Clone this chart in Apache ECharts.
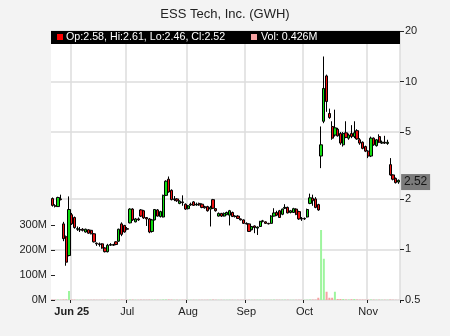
<!DOCTYPE html>
<html><head><meta charset="utf-8">
<script src="https://cdn.jsdelivr.net/npm/echarts@6/dist/echarts.min.js"></script>
<style>html,body{margin:0;padding:0;background:#f3f3f3}#c{width:450px;height:336px}</style>
</head><body><div id="c"></div>
<script>
// trading days (2025)
const mayDays=[21,22,23,27,28,29,30];
const junDays=[2,3,4,5,6,9,10,11,12,13,16,17,18,20,23,24,25,26,27,30];
const julDays=[1,2,3,7,8,9,10,11,14,15,16,17,18,21,22,23,24,25,28,29,30,31];
const augDays=[1,4,5,6,7,8,11,12,13,14,15,18,19,20,21,22,25,26,27,28,29];
const sepDays=[2,3,4,5,8,9,10,11,12,15,16,17,18,19,22,23,24,25,26,29,30];
const octDays=[1,2,3,6,7,8,9,10,13,14,15,16,17,20,21,22,23,24,27,28,29,30,31];
const novDays=[3,4,5,6,7,10,11,12,13,14,17,18];

const tickMonths=['06','07','08','09','10','11'];
const tickLabels=['Jun 25','Jul','Aug','Sep','Oct','Nov'];
const priceTicks=[0.5,1,2,5,10,20];
const volTicks=[0,100,200,300];

const openP=[2.01,1.82,1.80,2.00,1.42,1.19,0.92,1.61,1.55,1.32,1.31,1.32,1.27,1.31,1.30,1.24,1.09,1.08,1.08,1.02,
0.97,1.06,1.07,1.11,1.12,1.42,1.39,1.33,1.44,1.74,1.46,1.52,1.72,1.70,1.55,1.52,1.28,1.50,1.72,1.57,
1.56,2.10,2.62,2.25,1.98,2.00,1.88,1.92,1.86,1.75,1.84,1.92,1.84,1.88,1.86,1.80,1.80,1.74,1.98,1.75,
1.58,1.64,1.58,1.61,1.60,1.66,1.57,1.58,1.52,1.50,1.43,1.42,1.31,1.38,1.34,1.37,1.47,1.46,1.43,1.43,
1.58,1.66,1.70,1.62,1.76,1.78,1.66,1.66,1.74,1.68,1.53,1.52,1.56,1.88,2.02,2.00,1.85,3.60,5.80,10.80,
6.45,5.40,4.80,5.20,4.90,4.20,4.95,4.60,4.90,4.70,5.10,4.50,4.35,4.10,3.85,3.60,4.60,4.15,4.70,4.30,
4.35,4.28,3.20,2.78,2.65,2.58];
const highP=[2.04,1.86,2.06,2.12,1.46,1.21,2.07,1.65,1.57,1.37,1.36,1.34,1.33,1.32,1.31,1.25,1.10,1.10,1.09,1.03,
1.08,1.09,1.08,1.12,1.33,1.45,1.40,1.36,1.76,1.76,1.54,1.55,1.74,1.72,1.56,1.54,1.52,1.74,1.74,1.70,
2.12,2.58,2.72,2.28,2.08,2.02,1.96,2.10,1.88,1.84,1.90,1.94,1.90,1.90,1.88,1.82,1.82,1.82,2.00,1.76,
1.66,1.65,1.66,1.68,1.72,1.68,1.60,1.60,1.53,1.51,1.45,1.43,1.38,1.39,1.37,1.48,1.50,1.47,1.44,1.60,
1.76,1.70,1.72,1.75,1.86,1.80,1.72,1.77,1.76,1.70,1.56,1.55,1.75,2.15,2.12,2.05,1.87,5.40,14.10,11.00,
6.90,5.80,6.80,5.30,5.00,5.00,5.80,4.90,5.50,5.80,5.20,4.60,4.40,4.15,3.90,4.70,4.65,4.55,4.85,4.45,
4.75,4.50,3.50,2.80,2.68,2.61];
const lowP=[1.80,1.78,1.79,1.96,1.12,0.80,0.91,1.40,1.33,1.29,1.27,1.28,1.26,1.24,1.23,1.10,1.05,1.04,1.01,0.96,
0.96,1.05,1.05,1.06,1.11,1.20,1.26,1.30,1.43,1.48,1.45,1.48,1.56,1.52,1.38,1.25,1.26,1.49,1.57,1.55,
1.55,2.08,2.18,1.96,1.94,1.92,1.86,1.82,1.72,1.73,1.82,1.82,1.82,1.82,1.76,1.75,1.68,1.37,1.74,1.68,
1.57,1.56,1.57,1.60,1.39,1.56,1.55,1.52,1.49,1.42,1.41,1.27,1.30,1.25,1.22,1.36,1.45,1.42,1.41,1.42,
1.57,1.58,1.54,1.60,1.74,1.64,1.64,1.65,1.60,1.50,1.48,1.50,1.55,1.86,1.82,1.76,1.70,3.05,5.65,6.60,
6.00,4.50,4.70,4.70,4.20,4.10,4.60,4.50,4.60,4.60,4.50,4.20,3.95,3.80,3.50,3.55,4.15,4.10,4.30,4.25,
4.25,4.20,2.75,2.58,2.47,2.46];
const closeP=[1.83,1.81,2.04,1.98,1.16,0.84,1.73,1.42,1.35,1.33,1.31,1.30,1.32,1.25,1.24,1.11,1.08,1.07,1.02,0.97,
1.06,1.07,1.06,1.07,1.32,1.23,1.27,1.32,1.74,1.50,1.52,1.50,1.58,1.54,1.52,1.27,1.50,1.73,1.58,1.68,
2.10,2.55,2.20,1.98,2.00,1.95,1.94,1.90,1.74,1.82,1.86,1.83,1.86,1.84,1.78,1.77,1.70,1.78,1.76,1.70,
1.64,1.58,1.64,1.66,1.70,1.57,1.58,1.53,1.50,1.43,1.42,1.28,1.37,1.35,1.36,1.47,1.48,1.43,1.42,1.58,
1.65,1.60,1.55,1.74,1.78,1.65,1.70,1.75,1.62,1.52,1.52,1.53,1.73,2.03,1.95,1.78,1.72,4.20,9.10,7.60,
6.10,4.60,5.30,4.75,4.30,4.90,4.65,4.80,4.70,4.95,4.55,4.30,4.00,3.85,3.60,4.60,4.20,4.50,4.35,4.35,
4.30,4.35,2.78,2.62,2.50,2.52];
const volumeM=[1.6,1.2,1.4,1.1,2.0,2.2,36,1.8,1.4,1.0,0.9,0.8,0.9,0.8,0.9,1.1,0.9,0.8,1.0,1.1,
1.2,0.8,0.7,0.8,1.4,1.6,1.1,0.9,1.8,1.5,1.0,0.9,1.2,1.1,1.0,1.3,1.2,1.4,1.1,1.0,
1.9,2.0,2.0,1.5,1.0,0.9,0.8,0.9,1.0,0.8,0.7,0.8,0.7,0.7,0.8,0.7,0.9,1.2,1.6,0.9,
0.8,0.7,0.7,0.7,1.0,0.8,0.6,0.7,0.6,0.7,0.6,0.9,0.8,0.8,0.9,0.9,0.7,0.6,0.6,1.0,
1.5,1.0,1.0,1.1,1.2,1.0,0.8,0.9,0.9,1.0,0.8,0.7,1.2,1.8,1.6,1.4,9,280,165,33,
9,9,33,4,4,4,2,2,3,4,2,1.5,1.6,1.4,1.5,2,1.4,1.2,1.3,1.0,
1.0,0.9,1.8,1.2,0.8,0.426];

// build categories
const months=[['05',mayDays],['06',junDays],['07',julDays],['08',augDays],['09',sepDays],['10',octDays],['11',novDays]];
const dates=[];
months.forEach(([m,ds])=>ds.forEach(d=>dates.push('2025-'+m+'-'+String(d).padStart(2,'0'))));
const firstIdx={};
dates.forEach((d,i)=>{const m=d.slice(5,7); if(!(m in firstIdx)) firstIdx[m]=i;});
const tickMap=new Map(tickMonths.map((m,k)=>[firstIdx[m],tickLabels[k]]));
const isTick=(i)=>tickMap.has(i);

const UP='#11dd11', DOWN='#ee1111', VUP='#9ef59e', VDOWN='#f5a3a3';
const n=dates.length;
const candleData=dates.map((d,i)=>{
  const v=[openP[i],closeP[i],lowP[i],highP[i]];
  if(i===n-1) return {value:v,itemStyle:{color0:UP}};
  return v;
});
const volData=volumeM.map((v,i)=>({value:v,itemStyle:{color:closeP[i]>=openP[i]?VUP:VDOWN}}));
const last=n-1;
const legendText='Op:'+openP[last].toFixed(2)+', Hi:'+highP[last].toFixed(2)+', Lo:'+lowP[last].toFixed(2)+', Cl:'+closeP[last].toFixed(2);
const volText='Vol: '+volumeM[last].toFixed(3)+'M';

const FONT='"Liberation Sans", Arial, sans-serif';
const chart=echarts.init(document.getElementById('c'));
chart.setOption({
  animation:false,
  backgroundColor:'#f3f3f3',
  textStyle:{fontFamily:FONT},
  title:{text:'ESS Tech, Inc. (GWH)',left:'center',top:3,textStyle:{fontSize:13,fontWeight:'normal',color:'#222',fontFamily:FONT}},
  grid:{left:51,right:50,top:31,bottom:36,show:true,backgroundColor:'#ffffff',borderWidth:0},
  xAxis:{type:'category',data:dates,boundaryGap:true,
    axisLine:{show:false},
    axisTick:{show:true,interval:isTick,length:3,lineStyle:{color:'#222'}},
    axisLabel:{interval:isTick,margin:6,fontSize:11,color:'#222',
      formatter:(v,i)=>{const t=tickMap.get(i)||''; return i===firstIdx['06']?'{b|'+t+'}':t;},
      rich:{b:{fontWeight:'bold',fontSize:11,color:'#222'}}},
    splitLine:{show:true,interval:isTick,lineStyle:{color:'#dcdcdc',width:1.5}}
  },
  yAxis:[
    {type:'value',position:'left',min:0,max:1076,
      axisLine:{show:false},
      axisTick:{show:true,inside:true,length:4,customValues:volTicks,lineStyle:{color:'#222'}},
      axisLabel:{customValues:volTicks,formatter:v=>v+'M',margin:4,fontSize:11,color:'#222'},
      splitLine:{show:false}},
    {type:'log',logBase:10,position:'right',min:0.5,max:20,
      axisLine:{show:false},
      axisTick:{show:true,length:4,customValues:priceTicks,lineStyle:{color:'#222'}},
      axisLabel:{customValues:priceTicks,formatter:v=>String(v),margin:5,fontSize:11,color:'#222'},
      splitLine:{show:true,lineStyle:{color:'#dcdcdc',width:1.5}}}
  ],
  series:[
    {type:'bar',name:'Volume',xAxisIndex:0,yAxisIndex:0,data:volData,barWidth:2,z:1},
    {type:'candlestick',name:'Price',xAxisIndex:0,yAxisIndex:1,data:candleData,barWidth:2.7,z:3,
      itemStyle:{color:UP,color0:DOWN,borderColor:'#000',borderColor0:'#000',borderWidth:1},
      markPoint:{symbol:'rect',symbolSize:[29,16],symbolOffset:[17,0],silent:true,
        itemStyle:{color:'#7b7b7b'},
        label:{show:true,position:'inside',formatter:()=>closeP[last].toFixed(2),color:'#151515',fontSize:12,fontFamily:FONT},
        data:[{coord:[dates[last],closeP[last]]}]}
    }
  ],
  graphic:[
    {type:'rect',left:51,top:31,shape:{width:349,height:13},style:{fill:'#000'},z:100},
    {type:'rect',left:57,top:34,shape:{width:6,height:6},style:{fill:'#ff0000'},z:101},
    {type:'text',left:66,top:32,style:{text:legendText,fill:'#fff',font:'10.7px '+FONT},z:101},
    {type:'rect',left:251,top:34,shape:{width:6,height:6},style:{fill:'#f5a3a3'},z:101},
    {type:'text',left:261,top:32,style:{text:volText,fill:'#fff',font:'10.7px '+FONT},z:101}
  ]
});
</script></body></html>
